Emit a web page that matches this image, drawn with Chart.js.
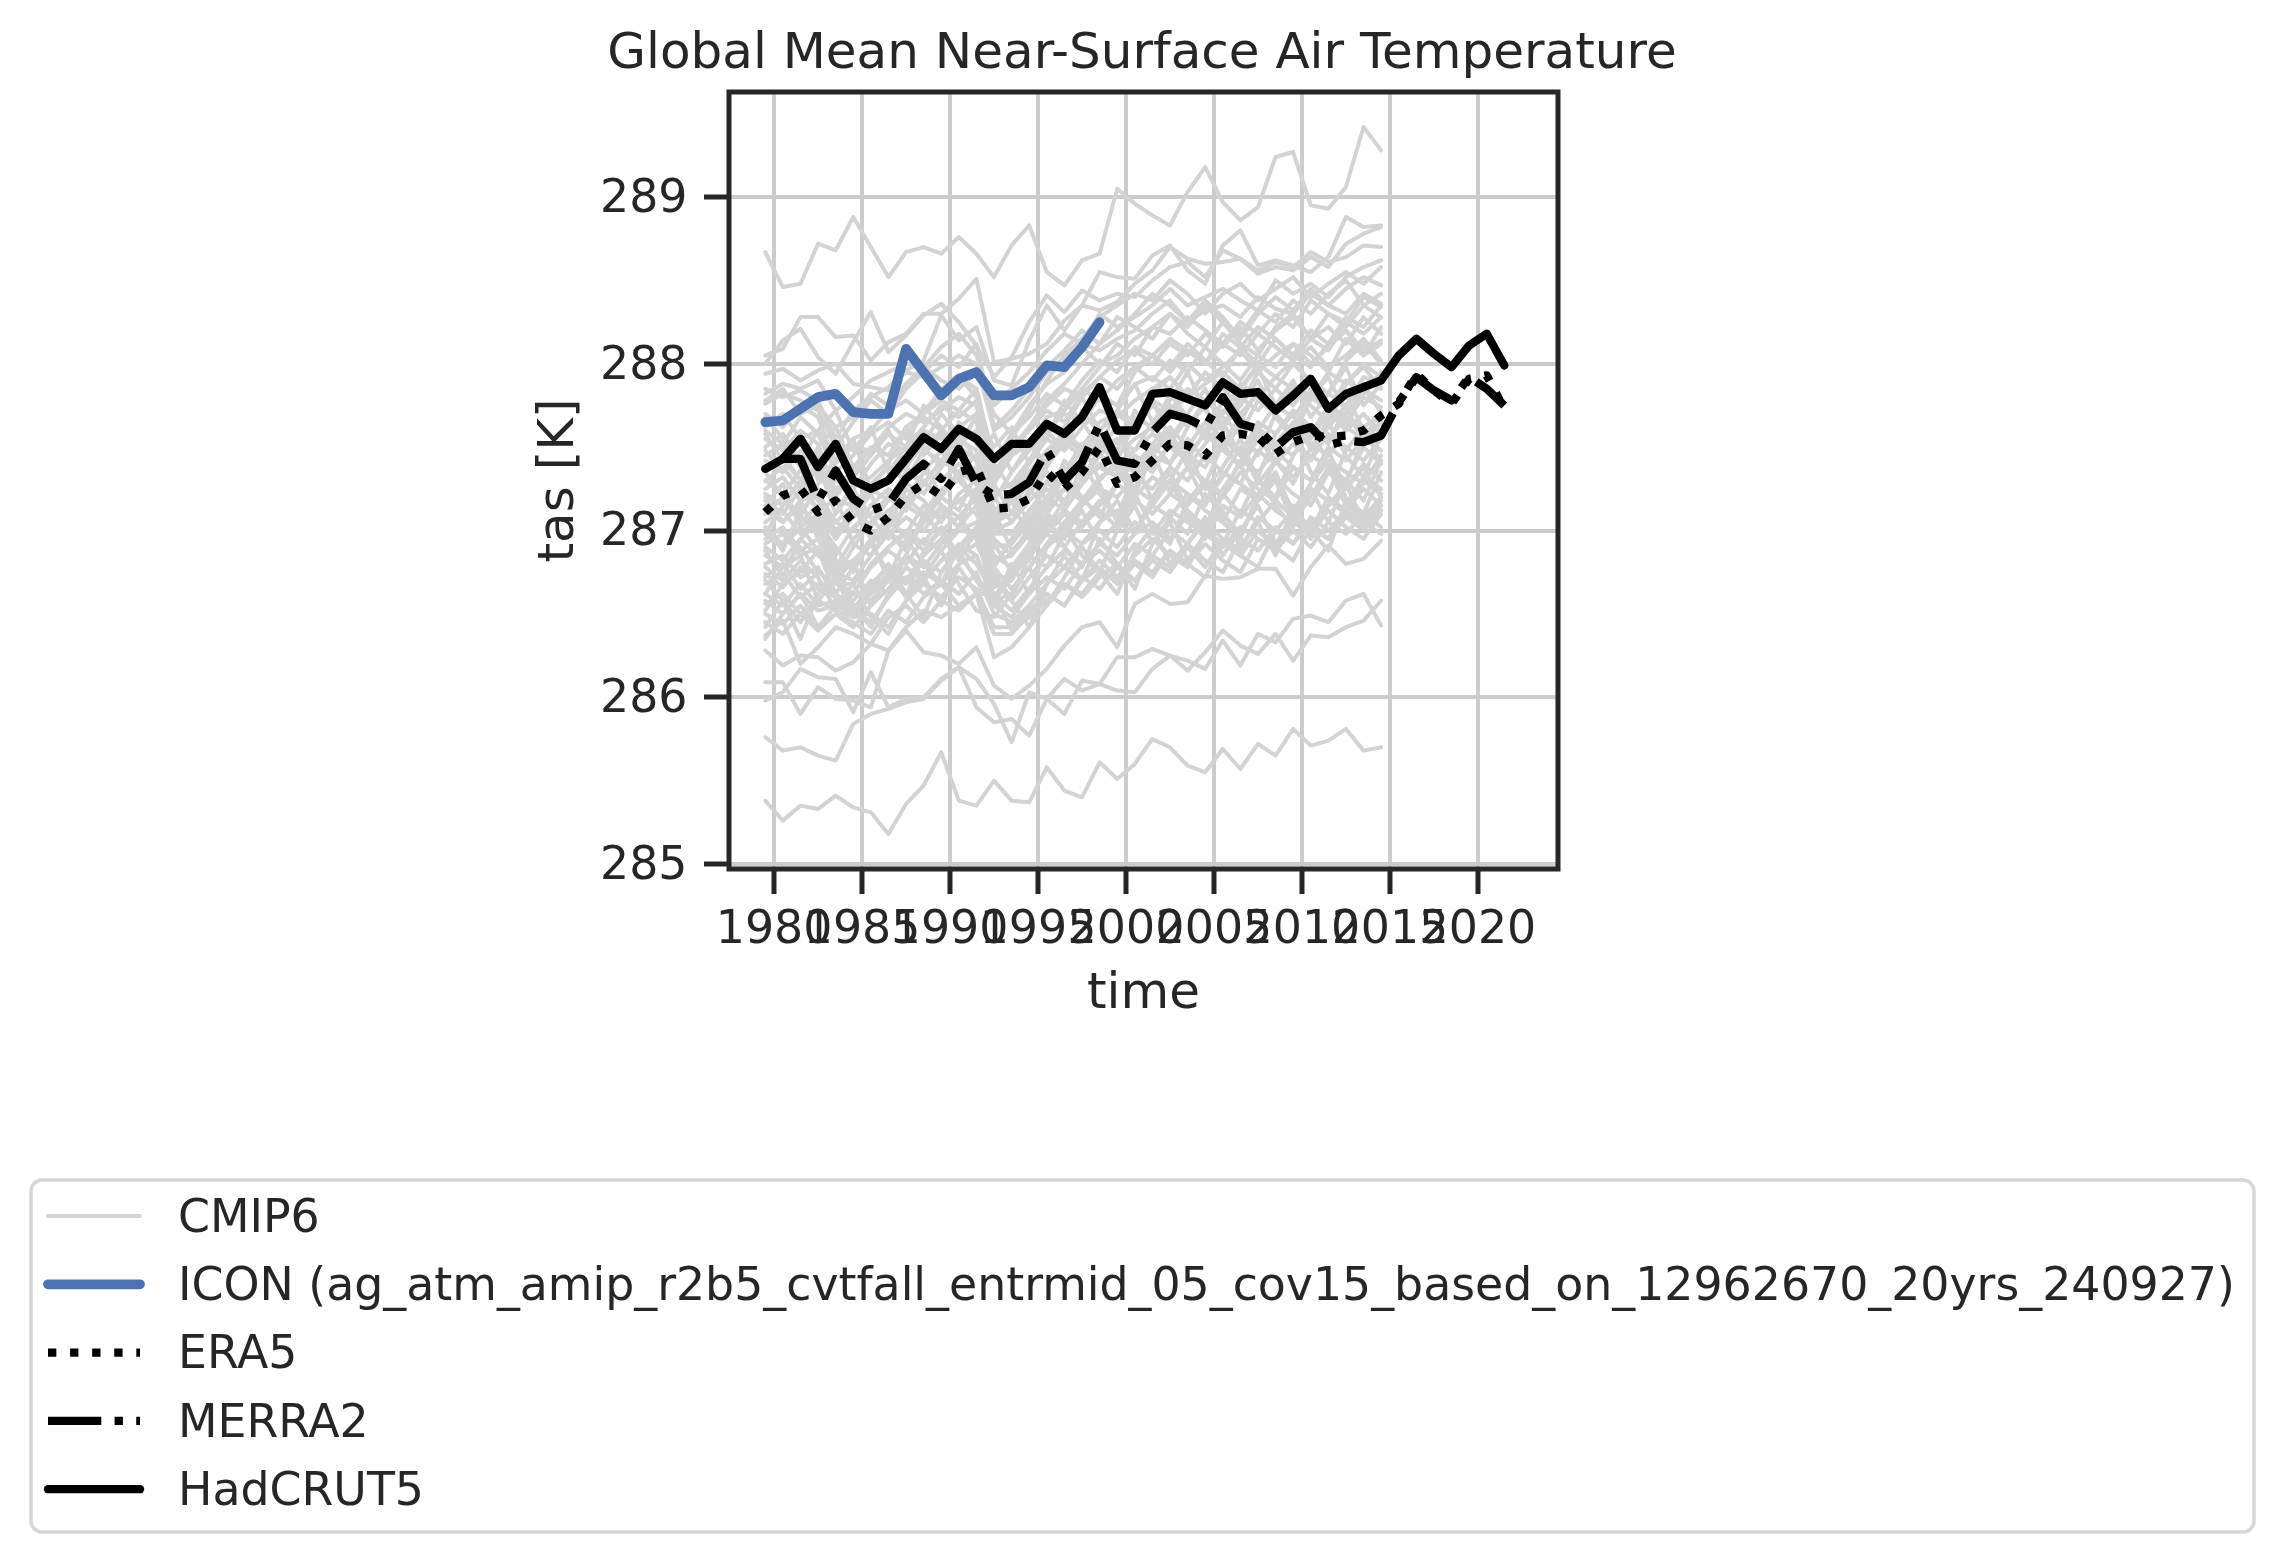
<!DOCTYPE html>
<html>
<head>
<meta charset="utf-8">
<title>Global Mean Near-Surface Air Temperature</title>
<script src="https://cdn.jsdelivr.net/npm/chart.js@4"></script>
<style>
  body { margin: 0; background: #fff; }
  canvas { display: block; }
</style>
</head>
<body>
<canvas id="tasChart" width="2284" height="1563"></canvas>
<script>
const xTicks = [1980, 1985, 1990, 1995, 2000, 2005, 2010, 2015, 2020];
const yTicks = [285, 286, 287, 288, 289];
const years = [1979.5,1980.5,1981.5,1982.5,1983.5,1984.5,1985.5,1986.5,1987.5,1988.5,1989.5,1990.5,1991.5,1992.5,1993.5,1994.5,1995.5,1996.5,1997.5,1998.5,1999.5,2000.5,2001.5,2002.5,2003.5,2004.5,2005.5,2006.5,2007.5,2008.5,2009.5,2010.5,2011.5,2012.5,2013.5,2014.5,2015.5,2016.5,2017.5,2018.5,2019.5,2020.5,2021.5];

const legendNames = ['CMIP6', 'ICON (ag_atm_amip_r2b5_cvtfall_entrmid_05_cov15_based_on_12962670_20yrs_240927)', 'ERA5', 'MERRA2', 'HadCRUT5'];

const icon = [287.65,287.66,287.73,287.80,287.82,287.71,287.70,287.70,288.09,287.95,287.81,287.91,287.95,287.81,287.81,287.86,287.99,287.98,288.10,288.25];
const era5 = [287.11,287.21,287.25,287.11,287.18,287.05,287.00,287.08,287.21,287.28,287.21,287.35,287.38,287.13,287.14,287.19,287.35,287.25,287.35,287.50,287.28,287.32,287.42,287.52,287.51,287.45,287.57,287.58,287.56,287.46,287.53,287.57,287.56,287.57,287.60,287.69,287.76,287.94,287.84,287.76,287.91,287.93,287.73];
const merra2 = [null,287.43,287.43,287.18,287.36,287.19,287.12,287.16,287.31,287.40,287.31,287.49,287.28,287.21,287.22,287.29,287.48,287.30,287.41,287.64,287.42,287.40,287.59,287.70,287.67,287.62,287.80,287.64,287.61,287.50,287.59,287.62,287.51,287.54,287.53,287.57,287.77,287.92,287.84,287.78,287.92,287.85,287.75];
const hadcrut5 = [287.37,287.43,287.55,287.38,287.52,287.30,287.25,287.30,287.43,287.56,287.49,287.61,287.55,287.43,287.52,287.52,287.64,287.58,287.68,287.86,287.60,287.60,287.82,287.83,287.79,287.75,287.89,287.82,287.83,287.72,287.81,287.91,287.73,287.82,287.86,287.90,288.05,288.15,288.06,287.98,288.11,288.18,287.99];

// one row per CMIP6 run, 1979.5 to 2014.5
const cmip6Runs = [
  [288.67,288.46,288.48,288.72,288.68,288.88,288.70,288.52,288.67,288.70,288.66,288.76,288.66,288.52,288.71,288.83,288.55,288.47,288.62,288.66,289.05,288.96,288.89,288.83,289.03,289.18,288.97,288.86,288.94,289.24,289.27,288.95,288.93,289.06,289.42,289.28],
  [285.38,285.26,285.35,285.33,285.41,285.34,285.31,285.18,285.36,285.47,285.67,285.38,285.35,285.50,285.38,285.37,285.58,285.44,285.40,285.61,285.51,285.60,285.75,285.70,285.59,285.55,285.69,285.57,285.72,285.65,285.81,285.71,285.74,285.81,285.68,285.70],
  [285.76,285.68,285.70,285.65,285.62,285.84,285.90,285.93,285.97,285.99,286.10,286.18,286.11,285.96,285.73,286.03,285.99,285.90,286.10,286.08,286.24,286.24,286.29,286.25,286.22,286.17,286.34,286.19,286.38,286.33,286.47,286.49,286.45,286.58,286.62,286.43],
  [285.98,286.03,286.17,286.12,286.11,285.91,286.15,285.94,285.99,286.00,286.11,286.18,285.94,285.85,285.87,285.77,285.99,286.11,286.04,286.08,286.04,286.03,286.17,286.25,286.16,286.27,286.40,286.31,286.26,286.38,286.22,286.37,286.36,286.42,286.46,286.58],
  [286.09,286.09,285.90,286.06,285.99,285.98,285.94,286.28,286.40,286.27,286.25,286.20,286.30,286.07,285.99,286.07,286.17,286.31,286.42,286.45,286.30,286.56,286.62,286.56,286.57,286.73,286.71,286.72,286.77,286.77,286.61,286.78,286.91,286.80,286.83,286.94],
  [288.05,288.09,288.28,288.28,288.16,288.17,288.02,288.13,288.18,288.30,288.30,288.39,288.51,288.01,288.03,288.06,288.12,288.26,288.35,288.32,288.37,288.48,288.56,288.70,288.63,288.60,288.61,288.63,288.56,288.61,288.58,288.67,288.61,288.64,288.71,288.70],
  [288.00,288.14,288.21,288.04,287.94,288.13,288.31,288.07,288.17,288.29,288.36,288.25,288.11,287.92,288.04,288.25,288.41,288.31,288.44,288.38,288.42,288.40,288.50,288.58,288.61,288.52,288.68,288.63,288.54,288.58,288.56,288.64,288.58,288.72,288.78,288.82],
  [287.94,287.97,287.90,287.96,288.00,287.88,287.86,287.84,287.96,288.02,288.29,288.14,288.22,287.90,287.87,288.14,288.35,288.20,288.35,288.55,288.52,288.51,288.65,288.71,288.56,288.48,288.71,288.80,288.59,288.62,288.59,288.55,288.64,288.88,288.82,288.83],
  [287.85,287.80,287.84,287.78,287.55,287.72,287.80,287.86,287.95,287.92,287.98,288.05,288.00,287.60,287.68,287.80,287.95,288.02,288.12,288.08,288.15,288.20,288.30,288.38,288.25,288.32,288.35,288.28,288.40,288.33,288.30,288.42,288.35,288.45,288.52,288.47],
  [287.78,287.85,287.70,287.75,287.62,287.68,287.82,287.75,287.88,287.98,287.90,287.85,287.95,287.70,287.58,287.75,287.88,287.95,288.10,288.00,288.05,288.15,288.22,288.18,288.28,288.20,288.12,288.25,288.18,288.30,288.22,288.38,288.30,288.25,288.40,288.34],
  [287.70,287.62,287.75,287.68,287.40,287.55,287.60,287.72,287.78,287.70,287.85,287.92,287.80,287.35,287.50,287.62,287.75,287.85,287.80,287.92,288.02,288.08,288.00,288.12,288.05,288.18,288.10,288.22,288.08,288.20,288.28,288.15,288.30,288.22,288.35,288.28],
  [287.62,287.70,287.55,287.60,287.42,287.50,287.48,287.62,287.70,287.65,287.72,287.80,287.75,287.28,287.45,287.52,287.68,287.72,287.85,287.78,287.90,287.98,288.05,287.95,288.08,288.00,288.12,288.05,288.18,288.10,288.02,288.15,288.22,288.12,288.28,288.18],
  [287.55,287.48,287.60,287.52,287.22,287.38,287.50,287.45,287.58,287.68,287.60,287.72,287.65,287.18,287.35,287.48,287.60,287.70,287.65,287.80,287.75,287.88,287.92,287.85,288.00,287.90,287.98,288.08,287.95,288.05,288.12,288.00,288.10,288.20,288.08,288.14],
  [287.50,287.58,287.42,287.45,287.30,287.25,287.40,287.52,287.48,287.60,287.55,287.62,287.70,287.22,287.28,287.42,287.55,287.48,287.62,287.72,287.68,287.78,287.85,287.92,287.80,287.88,287.95,287.85,288.00,287.92,288.02,288.10,287.98,288.05,288.15,288.02],
  [287.42,287.35,287.48,287.40,287.10,287.28,287.32,287.42,287.50,287.45,287.58,287.52,287.60,287.12,287.20,287.35,287.48,287.58,287.50,287.65,287.70,287.62,287.78,287.72,287.85,287.78,287.70,287.88,287.80,287.92,287.85,287.78,287.95,287.88,288.00,287.92],
  [287.38,287.45,287.30,287.35,287.18,287.15,287.28,287.38,287.30,287.48,287.42,287.55,287.48,287.05,287.18,287.30,287.40,287.52,287.45,287.58,287.52,287.68,287.62,287.75,287.68,287.60,287.78,287.70,287.82,287.75,287.88,287.80,287.72,287.90,287.82,287.95],
  [287.30,287.22,287.36,287.25,286.98,287.12,287.22,287.30,287.38,287.28,287.42,287.35,287.45,287.05,287.10,287.22,287.35,287.28,287.42,287.50,287.45,287.55,287.62,287.52,287.68,287.58,287.72,287.65,287.60,287.75,287.68,287.82,287.72,287.65,287.80,287.74],
  [287.25,287.32,287.18,287.22,287.05,287.00,287.15,287.25,287.18,287.35,287.30,287.40,287.32,287.00,287.05,287.18,287.28,287.38,287.32,287.45,287.40,287.48,287.58,287.50,287.42,287.60,287.52,287.68,287.58,287.50,287.65,287.58,287.75,287.68,287.62,287.70],
  [287.18,287.10,287.25,287.12,286.85,287.02,287.10,287.20,287.12,287.28,287.22,287.32,287.38,286.98,286.98,287.12,287.25,287.18,287.30,287.38,287.32,287.42,287.35,287.52,287.45,287.38,287.55,287.48,287.62,287.52,287.45,287.60,287.55,287.68,287.58,287.64],
  [287.12,287.05,287.15,287.02,286.78,286.95,287.05,287.12,287.20,287.10,287.25,287.30,287.22,286.90,286.92,287.05,287.18,287.25,287.18,287.32,287.38,287.30,287.45,287.40,287.55,287.42,287.50,287.38,287.55,287.48,287.62,287.52,287.45,287.60,287.70,287.58],
  [287.05,287.12,286.98,287.08,286.82,286.80,286.95,287.05,286.98,287.15,287.08,287.18,287.25,286.95,286.85,286.98,287.10,287.02,287.15,287.25,287.20,287.32,287.25,287.38,287.30,287.45,287.35,287.28,287.48,287.40,287.52,287.42,287.58,287.50,287.42,287.55],
  [286.98,286.90,287.02,286.88,286.78,286.82,286.92,287.00,286.90,287.05,287.12,287.02,287.15,286.85,286.78,286.92,287.02,287.12,287.05,287.18,287.10,287.25,287.18,287.30,287.22,287.15,287.35,287.28,287.20,287.42,287.32,287.45,287.38,287.30,287.50,287.40],
  [286.92,286.98,286.85,286.90,286.70,286.62,286.80,286.90,286.98,286.88,287.00,287.08,286.95,286.72,286.72,286.85,286.98,286.90,287.05,287.12,287.02,287.18,287.10,287.22,287.15,287.28,287.20,287.35,287.25,287.18,287.38,287.30,287.42,287.35,287.28,287.45],
  [286.85,286.78,286.90,286.75,286.68,286.68,286.78,286.88,286.80,286.95,286.88,287.00,287.05,286.78,286.65,286.78,286.90,287.00,286.92,287.05,287.12,287.00,287.15,287.08,287.22,287.12,287.05,287.25,287.18,287.32,287.22,287.15,287.35,287.25,287.40,287.30],
  [286.80,286.85,286.72,286.78,286.60,286.52,286.68,286.78,286.70,286.85,286.95,286.85,286.92,286.70,286.58,286.72,286.85,286.78,286.92,287.00,286.90,287.05,286.98,287.12,287.05,286.98,287.15,287.08,287.22,287.12,287.05,287.25,287.18,287.10,287.30,287.22],
  [286.74,286.66,286.78,286.65,286.60,286.58,286.70,286.62,286.78,286.70,286.82,286.90,286.80,286.62,286.52,286.65,286.78,286.88,286.80,286.92,286.85,286.98,287.05,286.95,287.10,287.00,286.92,287.12,287.05,287.18,287.08,287.00,287.20,287.12,287.25,287.15],
  [286.68,286.74,286.60,286.68,286.62,286.55,286.58,286.70,286.62,286.75,286.68,286.80,286.85,286.55,286.48,286.62,286.72,286.65,286.80,286.88,286.78,286.92,286.85,287.00,286.92,287.05,286.95,286.88,287.08,287.00,287.12,287.02,286.95,287.15,287.08,287.20],
  [286.62,286.55,286.68,286.55,286.58,286.52,286.45,286.60,286.72,286.62,286.70,286.62,286.75,286.50,286.45,286.55,286.68,286.78,286.70,286.82,286.72,286.85,286.95,286.85,286.78,286.98,286.90,287.02,286.95,286.88,287.05,286.98,287.12,287.02,286.95,287.10],
  [286.56,286.62,286.50,286.58,286.52,286.48,286.50,286.42,286.58,286.68,286.60,286.72,286.65,286.42,286.42,286.52,286.62,286.55,286.70,286.78,286.68,286.80,286.72,286.88,286.80,286.92,286.82,286.75,286.95,286.88,287.00,286.90,287.05,286.98,287.10,287.02],
  [286.50,286.44,286.55,286.42,286.50,286.45,286.38,286.52,286.45,286.60,286.68,286.55,286.62,286.62,286.40,286.48,286.58,286.68,286.60,286.72,286.80,286.70,286.82,286.75,286.90,286.78,286.95,286.85,286.78,287.00,286.92,287.05,286.95,287.10,287.02,287.15],
  [286.37,286.46,286.20,286.30,286.42,286.38,286.32,286.48,286.55,286.45,286.58,286.52,286.62,286.38,286.38,286.50,286.62,286.55,286.72,286.65,286.78,286.70,286.85,286.78,286.92,286.82,286.75,286.95,286.88,287.02,286.92,287.08,287.00,287.12,287.05,287.18],
  [286.28,286.19,286.25,286.24,286.16,286.21,286.32,286.28,286.42,286.52,286.48,286.55,286.62,286.24,286.30,286.42,286.55,286.68,286.62,286.75,286.70,286.82,286.75,286.88,286.80,286.72,286.92,286.85,287.00,286.90,286.82,287.02,286.95,287.08,287.00,287.12],
  [287.30,287.38,287.25,287.42,287.20,287.35,287.50,287.45,287.62,287.70,287.78,287.72,287.85,287.42,287.55,287.72,287.90,288.05,288.15,288.28,288.35,288.42,288.38,288.50,288.42,288.30,288.42,288.48,288.38,288.45,288.52,288.40,288.48,288.55,288.48,288.58],
  [287.10,287.20,287.05,287.15,286.95,287.12,287.28,287.38,287.30,287.48,287.60,287.52,287.68,287.30,287.45,287.62,287.78,287.88,288.00,288.12,288.20,288.30,288.42,288.35,288.25,288.38,288.28,288.15,288.30,288.40,288.32,288.45,288.35,288.30,288.42,288.36],
  [287.00,286.92,287.08,287.00,286.72,286.90,287.05,287.18,287.28,287.22,287.38,287.50,287.42,287.00,287.20,287.40,287.58,287.72,287.85,287.98,288.12,288.05,288.22,288.30,288.18,288.10,288.25,288.12,288.05,288.22,288.30,288.15,288.08,288.25,288.18,288.28],
  [286.90,286.82,286.95,286.85,286.78,286.78,286.92,287.02,287.15,287.08,287.22,287.35,287.28,287.00,287.05,287.22,287.38,287.55,287.68,287.82,287.75,287.95,288.05,287.98,288.12,288.02,287.92,288.10,288.00,288.15,288.05,287.98,288.12,288.20,288.05,288.12],
  [286.72,286.80,286.65,286.75,286.68,286.62,286.78,286.90,287.00,286.92,287.08,287.18,287.10,286.82,286.85,287.02,287.20,287.35,287.48,287.60,287.72,287.65,287.82,287.92,287.80,287.95,287.85,287.75,287.95,287.85,288.00,287.90,287.82,288.02,288.12,288.00],
  [286.58,286.50,286.62,286.52,286.55,286.50,286.62,286.72,286.85,286.78,286.92,287.02,286.95,286.66,286.70,286.88,287.02,287.18,287.30,287.45,287.55,287.48,287.65,287.75,287.62,287.78,287.68,287.58,287.78,287.70,287.85,287.75,287.65,287.88,287.98,287.85],
  [286.45,286.38,286.50,286.40,286.50,286.42,286.55,286.65,286.78,286.70,286.82,286.92,286.85,286.58,286.62,286.78,286.92,287.05,287.18,287.30,287.42,287.35,287.52,287.62,287.50,287.65,287.55,287.45,287.65,287.58,287.72,287.62,287.52,287.75,287.85,287.72],
  [287.82,287.88,287.85,287.90,287.72,287.80,287.90,287.95,288.00,287.98,288.10,288.18,288.05,287.75,287.85,287.95,288.08,288.18,288.12,288.30,288.22,288.28,288.35,288.45,288.35,288.40,288.45,288.38,288.32,288.50,288.42,288.48,288.40,288.52,288.58,288.62],
  [287.76,287.82,287.78,287.72,287.50,287.65,287.78,287.70,287.85,287.95,288.05,287.98,288.12,287.62,287.72,287.85,287.98,288.08,288.20,288.12,288.28,288.22,288.15,288.30,288.22,288.35,288.25,288.18,288.32,288.25,288.38,288.30,288.42,288.50,288.35,288.42],
  [287.60,287.52,287.68,287.58,287.35,287.45,287.58,287.65,287.55,287.72,287.82,287.92,287.85,287.40,287.58,287.68,287.82,287.75,287.90,288.02,287.95,288.10,288.05,288.15,288.08,288.00,288.18,288.10,288.22,288.15,288.05,288.20,288.12,288.28,288.22,288.35],
  [287.45,287.52,287.38,287.48,287.25,287.32,287.45,287.58,287.50,287.62,287.75,287.68,287.78,287.32,287.48,287.60,287.72,287.65,287.82,287.92,287.85,287.98,287.90,288.02,287.95,288.10,288.00,287.90,288.05,287.98,288.12,288.05,287.95,288.15,288.05,288.22],
  [287.22,287.15,287.30,287.18,287.00,287.10,287.25,287.18,287.35,287.28,287.42,287.50,287.42,287.02,287.18,287.30,287.42,287.55,287.48,287.60,287.70,287.62,287.75,287.68,287.82,287.72,287.62,287.80,287.72,287.85,287.75,287.90,287.82,287.75,287.92,287.88],
  [286.95,287.02,286.88,286.95,286.75,286.70,286.85,286.98,287.08,287.00,287.15,287.08,287.20,286.78,286.95,287.08,287.20,287.12,287.28,287.40,287.32,287.45,287.38,287.52,287.45,287.58,287.48,287.40,287.60,287.52,287.65,287.55,287.70,287.62,287.55,287.72],
  [286.78,286.70,286.82,286.72,286.52,286.62,286.62,286.75,286.68,286.82,286.75,286.90,286.98,286.58,286.72,286.85,286.98,287.10,287.02,287.15,287.28,287.20,287.32,287.25,287.38,287.30,287.22,287.42,287.35,287.48,287.38,287.30,287.50,287.42,287.55,287.48],
  [287.15,287.28,287.02,287.10,287.20,286.92,286.85,287.02,287.25,287.18,287.05,287.22,287.30,287.12,286.88,286.98,287.15,287.32,287.20,287.08,287.28,287.42,287.18,287.30,287.48,287.25,287.38,287.55,287.30,287.20,287.45,287.62,287.40,287.28,287.55,287.48],
  [286.88,286.72,286.95,287.05,286.90,286.75,286.95,286.70,286.85,287.10,286.98,286.82,287.00,286.92,286.75,286.82,287.05,286.95,287.15,287.28,287.05,286.98,287.20,287.35,287.12,287.02,287.25,287.40,287.18,287.32,287.12,287.28,287.48,287.25,287.38,287.20],
  [286.62,286.78,286.85,286.58,286.70,286.82,286.55,286.72,286.95,286.80,286.68,286.90,287.02,286.72,286.60,286.85,286.78,286.98,287.12,286.92,287.05,287.22,287.02,286.92,287.18,287.30,287.05,286.95,287.22,287.35,287.10,287.25,287.05,287.30,287.18,287.42],
  [286.42,286.58,286.35,286.62,286.72,286.50,286.65,286.80,286.62,286.48,286.75,286.88,286.70,286.55,286.80,286.62,286.90,287.02,286.85,286.75,287.00,287.15,286.92,287.08,286.98,287.22,287.10,286.98,287.18,287.30,287.05,287.20,287.38,287.15,287.32,287.25],
  [287.02,286.88,287.12,287.22,287.05,287.15,286.95,287.08,287.30,287.42,287.20,287.12,287.35,287.20,287.05,287.25,287.12,287.35,287.52,287.30,287.42,287.25,287.48,287.60,287.38,287.52,287.65,287.45,287.32,287.58,287.70,287.48,287.62,287.75,287.52,287.66],
  [287.48,287.35,287.58,287.30,287.42,287.55,287.25,287.40,287.62,287.50,287.38,287.65,287.52,287.40,287.25,287.42,287.60,287.48,287.72,287.58,287.42,287.65,287.78,287.55,287.70,287.85,287.62,287.75,287.90,287.68,287.55,287.80,287.92,287.70,287.85,287.78],
  [286.52,286.68,286.75,286.88,286.62,286.78,286.92,286.75,286.60,286.88,287.02,286.85,286.72,286.60,286.75,286.92,287.08,286.90,286.78,287.05,287.18,287.00,287.15,287.30,287.08,286.95,287.22,287.10,287.32,287.15,287.02,287.28,287.42,287.20,287.10,287.35],
  [287.68,287.55,287.42,287.60,287.72,287.48,287.62,287.35,287.50,287.75,287.62,287.48,287.70,287.50,287.62,287.40,287.55,287.78,287.65,287.50,287.72,287.88,287.65,287.78,287.95,287.72,287.60,287.85,287.98,287.75,287.90,287.68,287.82,287.98,287.75,287.88],
  [286.70,286.58,286.45,286.62,286.78,286.55,286.42,286.62,286.85,286.72,286.55,286.78,286.62,286.75,286.58,286.42,286.68,286.85,286.70,286.95,286.80,286.65,286.92,287.05,286.82,286.98,287.12,286.90,287.05,286.85,287.15,287.00,286.88,287.18,287.05,286.98],
  [287.35,287.20,287.08,287.28,287.38,287.15,287.02,287.22,287.12,287.35,287.48,287.30,287.18,287.28,287.10,287.32,287.18,287.42,287.30,287.50,287.62,287.38,287.52,287.40,287.62,287.75,287.50,287.62,287.45,287.70,287.58,287.42,287.68,287.82,287.60,287.55],
  [286.98,287.15,287.30,287.12,286.95,287.08,287.22,286.98,286.88,287.05,287.20,287.35,287.15,287.02,287.18,286.95,287.10,287.25,287.42,287.22,287.08,287.35,287.48,287.22,287.38,287.18,287.32,287.50,287.28,287.42,287.62,287.35,287.22,287.48,287.62,287.40],
  [286.35,286.50,286.62,286.42,286.55,286.68,286.48,286.38,286.58,286.72,286.88,286.68,286.52,286.48,286.62,286.78,286.55,286.72,286.90,286.75,286.62,286.88,287.02,286.80,286.92,287.08,286.85,287.00,287.15,286.92,287.08,286.95,287.15,287.28,287.05,287.12],
  [287.58,287.42,287.30,287.50,287.62,287.38,287.48,287.60,287.38,287.52,287.70,287.58,287.42,287.58,287.35,287.52,287.40,287.62,287.80,287.60,287.48,287.72,287.60,287.82,287.68,287.55,287.78,287.65,287.85,287.70,287.58,287.85,287.72,287.60,287.88,287.70],
  [287.20,287.05,287.18,286.95,287.10,287.25,287.08,286.95,287.15,287.30,287.15,287.02,287.25,287.08,287.22,287.05,287.30,287.15,287.38,287.55,287.35,287.22,287.45,287.58,287.40,287.28,287.52,287.38,287.55,287.42,287.28,287.50,287.65,287.45,287.32,287.58]
];

function toPoints(values) {
  return values.map((v, i) => ({ x: years[i], y: v }));
}

const ink = '#262626';
const datasets = cmip6Runs.map(run => ({
  label: legendNames[0],
  data: toPoints(run),
  borderColor: '#d3d3d3',
  borderWidth: 4,
  borderCapStyle: 'round',
  order: 5
}));
datasets.push({ label: legendNames[1], data: toPoints(icon), borderColor: '#4c72b0', borderWidth: 9.7, borderCapStyle: 'round', order: 4 });
datasets.push({ label: legendNames[2], data: toPoints(era5), borderColor: '#000', borderWidth: 8.33, borderDash: [8.33, 13.75], borderCapStyle: 'butt', order: 3 });
datasets.push({ label: legendNames[3], data: toPoints(merra2), borderColor: '#000', borderWidth: 8.33, borderDash: [53.3, 13.3, 8.33, 13.3], borderCapStyle: 'butt', order: 2 });
datasets.push({ label: legendNames[4], data: toPoints(hadcrut5), borderColor: '#000', borderWidth: 8.33, borderCapStyle: 'round', order: 1 });

// title is wider than the axes, centre it on the whole figure
const centredTitle = {
  id: 'centredTitle',
  beforeDraw(chart) {
    chart.titleBlock.left = 0;
    chart.titleBlock.right = chart.width;
  }
};

// top and right spines, matplotlib style box
const frame = {
  id: 'frame',
  afterDatasetsDraw(chart) {
    const { ctx, chartArea: a } = chart;
    ctx.save();
    ctx.strokeStyle = ink;
    ctx.lineWidth = 5;
    ctx.strokeRect(a.left, a.top, a.right - a.left, a.bottom - a.top);
    ctx.restore();
  }
};

// boxed legend under the plot, line samples taken from the datasets
const lineLegend = {
  id: 'lineLegend',
  afterDraw(chart) {
    const { ctx } = chart;
    ctx.save();
    ctx.beginPath();
    ctx.roundRect(31, 1180, 2223, 352, 11);
    ctx.strokeStyle = '#d6d6d6';
    ctx.lineWidth = 3.5;
    ctx.stroke();
    ctx.font = '45.8px "DejaVu Sans"';
    ctx.textBaseline = 'middle';
    ctx.textAlign = 'left';
    legendNames.forEach((name, i) => {
      const ds = chart.data.datasets.find(d => d.label === name);
      const y = 1216 + i * 68.3;
      ctx.beginPath();
      ctx.moveTo(48, y);
      ctx.lineTo(140, y);
      ctx.strokeStyle = ds.borderColor;
      ctx.lineWidth = ds.borderWidth;
      ctx.lineCap = ds.borderCapStyle;
      ctx.setLineDash(ds.borderDash || []);
      ctx.stroke();
      ctx.setLineDash([]);
      ctx.fillStyle = ink;
      ctx.fillText(name, 178, y + 4);
    });
    ctx.restore();
  }
};

Chart.defaults.font.family = '"DejaVu Sans"';
Chart.defaults.color = ink;

new Chart(document.getElementById('tasChart').getContext('2d'), {
  type: 'line',
  data: { datasets: datasets },
  plugins: [centredTitle, frame, lineLegend],
  options: {
    responsive: false,
    devicePixelRatio: 1,
    animation: false,
    events: [],
    layout: { padding: { left: 500, top: 0, right: 726, bottom: 522 } },
    elements: {
      point: { radius: 0 },
      line: { tension: 0, borderJoinStyle: 'round' }
    },
    scales: {
      x: {
        type: 'linear',
        min: 1977.44,
        max: 2024.55,
        afterFit: s => { s.height = 172; },
        afterBuildTicks: s => { s.ticks = xTicks.map(v => ({ value: v })); },
        border: { display: false },
        grid: { color: '#cccccc', lineWidth: 4, tickColor: ink, tickWidth: 5, tickLength: 25 },
        ticks: { font: { size: 45.8 }, color: ink, padding: 10, maxRotation: 0, autoSkip: false, callback: v => String(v) },
        title: { display: true, text: 'time', font: { size: 50 }, color: ink, padding: { top: 0, bottom: 16 } }
      },
      y: {
        type: 'linear',
        min: 284.97,
        max: 289.63,
        afterFit: s => { s.width = 229; },
        afterBuildTicks: s => { s.ticks = yTicks.map(v => ({ value: v })); },
        border: { display: false },
        grid: { color: '#cccccc', lineWidth: 4, tickColor: ink, tickWidth: 5, tickLength: 25 },
        ticks: { font: { size: 45.8 }, color: ink, padding: 16.5, labelOffset: 3, callback: v => String(v) },
        title: { display: true, text: 'tas [K]', font: { size: 50 }, color: ink, padding: { top: 30, bottom: 0 } }
      }
    },
    plugins: {
      legend: { display: false },
      tooltip: { enabled: false },
      title: {
        display: true,
        text: 'Global Mean Near-Surface Air Temperature',
        font: { size: 50, weight: 'normal' },
        color: ink,
        padding: { top: 25, bottom: 7 }
      }
    }
  }
});
</script>
</body>
</html>
